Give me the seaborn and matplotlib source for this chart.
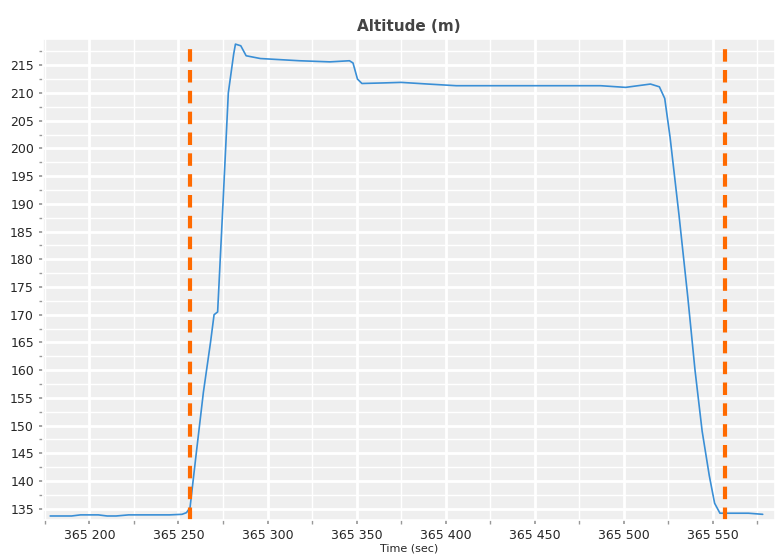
import matplotlib
matplotlib.use("Agg")
import matplotlib.pyplot as plt
import matplotlib.ticker as mt
import seaborn as sns
import pandas as pd

time = [365178, 365190, 365195, 365205, 365210, 365215, 365222, 365245, 365252, 365254.5, 365256.5,
        365260, 365264, 365268, 365270, 365272, 365275, 365278, 365281, 365282, 365285, 365288,
        365296, 365318, 365335, 365346, 365348, 365350.5, 365353, 365365, 365375, 365390, 365406,
        365450, 365487, 365501, 365515, 365520, 365523, 365526, 365531, 365536, 365540, 365544,
        365548, 365551, 365554, 365570, 365578]
alt = [133.7, 133.7, 133.9, 133.9, 133.7, 133.7, 133.9, 133.9, 134.0, 134.3, 135.2,
       145, 156, 165, 170, 170.5, 190, 210, 217, 218.8, 218.5, 216.7,
       216.2, 215.8, 215.6, 215.8, 215.4, 212.5, 211.7, 211.8, 211.9, 211.6, 211.3,
       211.3, 211.3, 211.0, 211.6, 211.1, 209, 202, 188, 173, 160, 149,
       141, 136, 134.2, 134.2, 134.0]
markers = [365256.7, 365557.0]

df = pd.DataFrame({"t": time, "alt": alt})
sns.set_theme(style="darkgrid", rc={"axes.facecolor": "#efefef", "grid.color": "white"})
fig, ax = plt.subplots(figsize=(7.83, 5.59), dpi=100)
fig.subplots_adjust(left=0.055, right=0.99, top=0.93, bottom=0.07)
sns.lineplot(data=df, x="t", y="alt", ax=ax, color="#3a8fd6", linewidth=1.2)
for m in markers:
    ax.plot([m, m], [133.0, 218.3], color="#ff6a00", linestyle=(0, (3, 2)), linewidth=3)
ax.set_xlim(365174, 365585)
ax.set_ylim(133.0, 219.7)
ax.xaxis.set_major_locator(mt.MultipleLocator(50))
ax.xaxis.set_minor_locator(mt.MultipleLocator(25))
ax.yaxis.set_major_locator(mt.MultipleLocator(5))
ax.yaxis.set_minor_locator(mt.MultipleLocator(2.5))
ax.xaxis.set_major_formatter(mt.FuncFormatter(lambda v, p: f"{int(v):,}".replace(",", " ")))
ax.grid(which="major", color="white", linewidth=2)
ax.grid(which="minor", color="white", linewidth=1)
ax.tick_params(labelsize=9, length=3, which="both", left=True, bottom=True, color="#999999")
ax.set_title("Altitude (m)", fontsize=11, fontweight="bold", color="#444444")
ax.set_xlabel("Time (sec)", fontsize=8, labelpad=1)
ax.set_ylabel("")
fig.savefig("out.png")
